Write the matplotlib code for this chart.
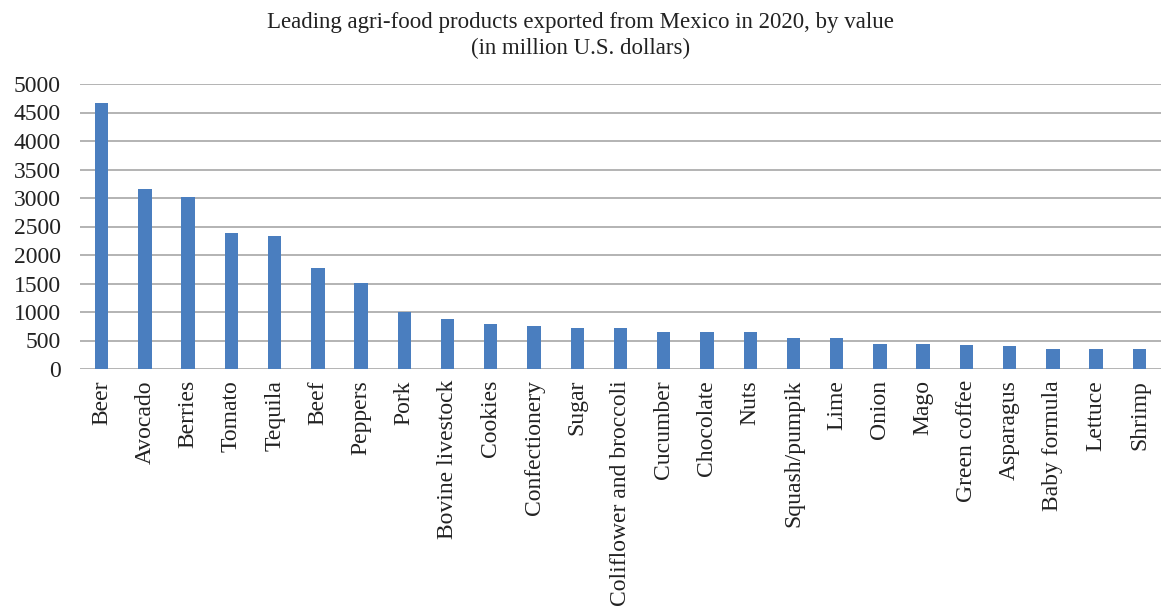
import matplotlib
matplotlib.use("Agg")
import matplotlib.pyplot as plt
import numpy as np

products = ["Beer", "Avocado", "Berries", "Tomato", "Tequila", "Beef", "Peppers",
            "Pork", "Bovine livestock", "Cookies", "Confectionery", "Sugar",
            "Coliflower and broccoli", "Cucumber", "Chocolate", "Nuts",
            "Squash/pumpik", "Lime", "Onion", "Mago", "Green coffee", "Asparagus",
            "Baby formula", "Lettuce", "Shrimp"]
values = [4665, 3150, 3010, 2378, 2325, 1780, 1510, 1005, 884, 796, 761, 726,
          727, 656, 655, 655, 550, 548, 445, 445, 427, 410, 357, 357, 357]

plt.rcParams["font.family"] = ["Liberation Serif", "DejaVu Serif"]

fig = plt.figure(figsize=(11.61, 6.09), dpi=100)
ax = fig.add_axes([80/1161, 1 - 369/609, 1081/1161, 285/609])

x = np.arange(len(products))
ax.bar(x, values, width=0.31, color="#4a7ebf", zorder=3)

ax.set_xlim(-0.5, len(products) - 0.5)
ax.set_ylim(0, 5000)
ax.set_yticks(range(0, 5001, 500))
ax.yaxis.grid(True, color="#b3b3b3", linewidth=1.4, zorder=0)
for s in ax.spines.values():
    s.set_visible(False)
ax.set_xticks(x)
ax.set_xticklabels(products, rotation=90, fontsize=17, color="#222222")
ax.tick_params(axis="y", labelsize=17, labelcolor="#222222", length=0, pad=14)
ax.tick_params(axis="x", length=0, pad=8)

fig.text(0.5, 1 - 36/609, "Leading agri-food products exported from Mexico in 2020, by value\n(in million U.S. dollars)",
         ha="center", va="center", fontsize=16.5, color="#222222", linespacing=1.3)

fig.savefig("out.png", dpi=100)
